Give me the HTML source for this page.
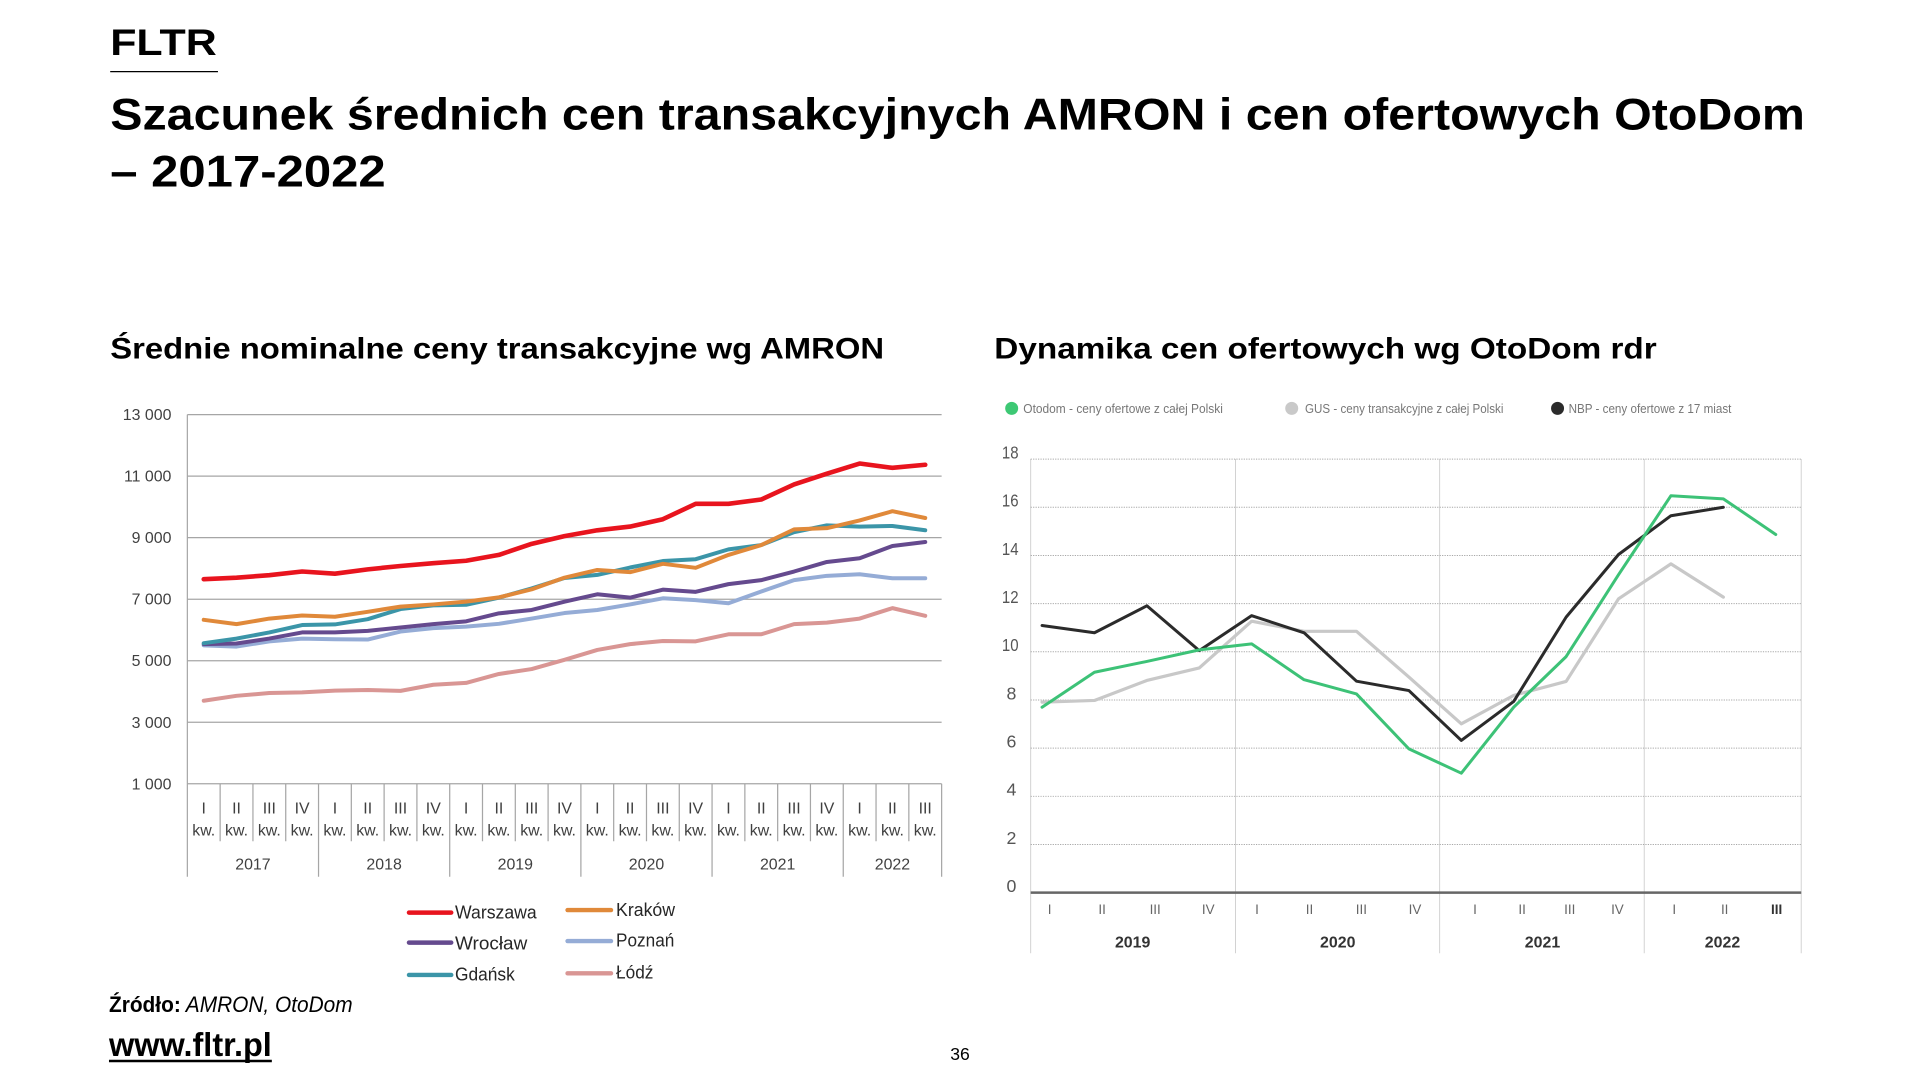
<!DOCTYPE html>
<html>
<head>
<meta charset="utf-8">
<style>
html,body{margin:0;padding:0;background:#fff;}
svg{display:block;}
text{font-family:"Liberation Sans",Arial,sans-serif;}
</style>
</head>
<body>
<svg width="1920" height="1080" viewBox="0 0 1568 882" xmlns="http://www.w3.org/2000/svg">
<rect x="0" y="0" width="1568" height="882" fill="#fff"/>

<!-- Header -->
<text x="90" y="45" font-size="30" font-weight="bold" fill="#000" textLength="87" lengthAdjust="spacingAndGlyphs">FLTR</text>
<line x1="90" y1="58.5" x2="178" y2="58.5" stroke="#000" stroke-width="1"/>
<text x="90" y="105.6" font-size="36.5" font-weight="bold" fill="#000" textLength="1384" lengthAdjust="spacingAndGlyphs">Szacunek średnich cen transakcyjnych AMRON i cen ofertowych OtoDom</text>
<text x="90" y="152.4" font-size="36.5" font-weight="bold" fill="#000" textLength="225" lengthAdjust="spacingAndGlyphs">– 2017-2022</text>

<text x="90" y="292.6" font-size="24" font-weight="bold" fill="#000" textLength="632" lengthAdjust="spacingAndGlyphs">Średnie nominalne ceny transakcyjne wg AMRON</text>
<text x="812" y="292.6" font-size="24" font-weight="bold" fill="#000" textLength="541" lengthAdjust="spacingAndGlyphs">Dynamika cen ofertowych wg OtoDom rdr</text>

<!-- LEFT CHART -->
<g stroke="#a6a6a6" stroke-width="1" fill="none">
  <line x1="153" y1="338.6" x2="769" y2="338.6"/>
  <line x1="153" y1="388.85" x2="769" y2="388.85"/>
  <line x1="153" y1="439.1" x2="769" y2="439.1"/>
  <line x1="153" y1="489.35" x2="769" y2="489.35"/>
  <line x1="153" y1="539.6" x2="769" y2="539.6"/>
  <line x1="153" y1="589.85" x2="769" y2="589.85"/>
  <line x1="153" y1="640.1" x2="769" y2="640.1"/>
  <line x1="153" y1="338.6" x2="153" y2="716"/>
  <path d="M179.78 640.1V687 M206.57 640.1V687 M233.35 640.1V687 M260.13 640.1V716 M286.91 640.1V687 M313.70 640.1V687 M340.48 640.1V687 M367.26 640.1V716 M394.04 640.1V687 M420.83 640.1V687 M447.61 640.1V687 M474.39 640.1V716 M501.17 640.1V687 M527.96 640.1V687 M554.74 640.1V687 M581.52 640.1V716 M608.30 640.1V687 M635.09 640.1V687 M661.87 640.1V687 M688.65 640.1V716 M715.43 640.1V687 M742.22 640.1V687 M769 640.1V716"/>
</g>
<g font-size="13" fill="#404040" text-anchor="end">
  <text x="140" y="343.1">13 000</text>
  <text x="140" y="393.35">11 000</text>
  <text x="140" y="443.6">9 000</text>
  <text x="140" y="493.85">7 000</text>
  <text x="140" y="544.1">5 000</text>
  <text x="140" y="594.35">3 000</text>
  <text x="140" y="644.6">1 000</text>
</g>
<g font-size="13" fill="#404040" text-anchor="middle">
  <text x="166.39" y="664.5">I</text><text x="193.17" y="664.5">II</text><text x="219.96" y="664.5">III</text><text x="246.74" y="664.5">IV</text>
  <text x="273.52" y="664.5">I</text><text x="300.30" y="664.5">II</text><text x="327.09" y="664.5">III</text><text x="353.87" y="664.5">IV</text>
  <text x="380.65" y="664.5">I</text><text x="407.43" y="664.5">II</text><text x="434.22" y="664.5">III</text><text x="461.00" y="664.5">IV</text>
  <text x="487.78" y="664.5">I</text><text x="514.56" y="664.5">II</text><text x="541.35" y="664.5">III</text><text x="568.13" y="664.5">IV</text>
  <text x="594.91" y="664.5">I</text><text x="621.69" y="664.5">II</text><text x="648.48" y="664.5">III</text><text x="675.26" y="664.5">IV</text>
  <text x="702.04" y="664.5">I</text><text x="728.82" y="664.5">II</text><text x="755.61" y="664.5">III</text>

  <text x="166.39" y="682.5">kw.</text><text x="193.17" y="682.5">kw.</text><text x="219.96" y="682.5">kw.</text><text x="246.74" y="682.5">kw.</text>
  <text x="273.52" y="682.5">kw.</text><text x="300.30" y="682.5">kw.</text><text x="327.09" y="682.5">kw.</text><text x="353.87" y="682.5">kw.</text>
  <text x="380.65" y="682.5">kw.</text><text x="407.43" y="682.5">kw.</text><text x="434.22" y="682.5">kw.</text><text x="461.00" y="682.5">kw.</text>
  <text x="487.78" y="682.5">kw.</text><text x="514.56" y="682.5">kw.</text><text x="541.35" y="682.5">kw.</text><text x="568.13" y="682.5">kw.</text>
  <text x="594.91" y="682.5">kw.</text><text x="621.69" y="682.5">kw.</text><text x="648.48" y="682.5">kw.</text><text x="675.26" y="682.5">kw.</text>
  <text x="702.04" y="682.5">kw.</text><text x="728.82" y="682.5">kw.</text><text x="755.61" y="682.5">kw.</text>

  <text x="206.57" y="710">2017</text>
  <text x="313.70" y="710">2018</text>
  <text x="420.83" y="710">2019</text>
  <text x="527.96" y="710">2020</text>
  <text x="635.09" y="710">2021</text>
  <text x="728.82" y="710">2022</text>
</g>

<g transform="translate(166.39 665.225) scale(26.7826 -0.025125)" fill="none" stroke-linejoin="round" stroke-linecap="round">
  <polyline vector-effect="non-scaling-stroke" stroke="#d99694" stroke-width="4" points="0,3700 1,3860 2,3950 3,3970 4,4030 5,4050 6,4020 7,4220 8,4280 9,4570 10,4730 11,5030 12,5350 13,5540 14,5640 15,5630 16,5860 17,5860 18,6190 19,6240 20,6370 21,6710 22,6460"/>
  <polyline vector-effect="non-scaling-stroke" stroke="#95acd6" stroke-width="4" points="0,5500 1,5460 2,5630 3,5720 4,5700 5,5690 6,5950 7,6060 8,6110 9,6200 10,6370 11,6550 12,6650 13,6830 14,7030 15,6970 16,6870 17,7250 18,7620 19,7760 20,7810 21,7680 22,7680"/>
  <polyline vector-effect="non-scaling-stroke" stroke="#654a8e" stroke-width="4" points="0,5540 1,5560 2,5720 3,5920 4,5920 5,5970 6,6080 7,6190 8,6280 9,6540 10,6650 11,6920 12,7160 13,7050 14,7310 15,7240 16,7490 17,7620 18,7900 19,8210 20,8330 21,8730 22,8860"/>
  <polyline vector-effect="non-scaling-stroke" stroke="#3b95a8" stroke-width="4" points="0,5570 1,5720 2,5920 3,6160 4,6180 5,6350 6,6680 7,6800 8,6820 9,7050 10,7350 11,7690 12,7790 13,8030 14,8240 15,8300 16,8620 17,8760 18,9180 19,9400 20,9360 21,9380 22,9240"/>
  <polyline vector-effect="non-scaling-stroke" stroke="#e0893a" stroke-width="4" points="0,6330 1,6190 2,6370 3,6470 4,6430 5,6590 6,6760 7,6830 8,6920 9,7060 10,7320 11,7700 12,7950 13,7880 14,8150 15,8020 16,8440 17,8760 18,9270 19,9310 20,9560 21,9860 22,9640"/>
  <polyline vector-effect="non-scaling-stroke" stroke="#e8141e" stroke-width="4.6" points="0,7650 1,7700 2,7780 3,7900 4,7830 5,7970 6,8080 7,8170 8,8250 9,8440 10,8800 11,9050 12,9240 13,9360 14,9600 15,10100 16,10100 17,10240 18,10730 19,11080 20,11410 21,11270 22,11370"/>
</g>

<!-- Left legend -->
<g stroke-width="3.6" stroke-linecap="round">
  <line x1="334" y1="745.3" x2="368.5" y2="745.3" stroke="#e8141e"/>
  <line x1="463.5" y1="743.2" x2="499" y2="743.2" stroke="#e0893a"/>
  <line x1="334" y1="769.8" x2="368.5" y2="769.8" stroke="#654a8e"/>
  <line x1="463.5" y1="768.5" x2="499" y2="768.5" stroke="#95acd6"/>
  <line x1="334" y1="796.2" x2="368.5" y2="796.2" stroke="#3b95a8"/>
  <line x1="463.5" y1="794.9" x2="499" y2="794.9" stroke="#d99694"/>
</g>
<g font-size="15" fill="#262626">
  <text x="371.6" y="750" textLength="66.7" lengthAdjust="spacingAndGlyphs">Warszawa</text>
  <text x="503.1" y="748.1" textLength="48.2" lengthAdjust="spacingAndGlyphs">Kraków</text>
  <text x="371.6" y="775.3" textLength="59" lengthAdjust="spacingAndGlyphs">Wrocław</text>
  <text x="503.1" y="773" textLength="47.6" lengthAdjust="spacingAndGlyphs">Poznań</text>
  <text x="371.6" y="800.9" textLength="48.8" lengthAdjust="spacingAndGlyphs">Gdańsk</text>
  <text x="503.1" y="799" textLength="30.5" lengthAdjust="spacingAndGlyphs">Łódź</text>
</g>

<!-- RIGHT CHART -->
<g fill="none">
  <g stroke="#d2d2d2" stroke-width="0.8">
    <line x1="841.7" y1="374.9" x2="841.7" y2="778.5"/>
    <line x1="1009" y1="374.9" x2="1009" y2="778.5"/>
    <line x1="1175.7" y1="374.9" x2="1175.7" y2="778.5"/>
    <line x1="1342.8" y1="374.9" x2="1342.8" y2="778.5"/>
    <line x1="1471" y1="374.9" x2="1471" y2="778.5"/>
  </g>
  <g stroke="#a8a8a8" stroke-width="0.8" stroke-dasharray="1 1">
    <line x1="841.7" y1="374.94" x2="1471" y2="374.94"/>
    <line x1="841.7" y1="414.28" x2="1471" y2="414.28"/>
    <line x1="841.7" y1="453.62" x2="1471" y2="453.62"/>
    <line x1="841.7" y1="492.96" x2="1471" y2="492.96"/>
    <line x1="841.7" y1="532.3" x2="1471" y2="532.3"/>
    <line x1="841.7" y1="571.64" x2="1471" y2="571.64"/>
    <line x1="841.7" y1="610.98" x2="1471" y2="610.98"/>
    <line x1="841.7" y1="650.32" x2="1471" y2="650.32"/>
    <line x1="841.7" y1="689.66" x2="1471" y2="689.66"/>
  </g>
  <line x1="841.7" y1="729" x2="1471" y2="729" stroke="#666" stroke-width="2"/>
</g>
<g font-size="14.5" fill="#555" text-anchor="middle">
  <text x="825" y="374.4" textLength="13.6" lengthAdjust="spacingAndGlyphs">18</text>
  <text x="825" y="413.8" textLength="13.6" lengthAdjust="spacingAndGlyphs">16</text>
  <text x="825" y="453.1" textLength="13.6" lengthAdjust="spacingAndGlyphs">14</text>
  <text x="825" y="492.5" textLength="13.6" lengthAdjust="spacingAndGlyphs">12</text>
  <text x="825" y="531.8" textLength="13.6" lengthAdjust="spacingAndGlyphs">10</text>
  <text x="826" y="571.1">8</text>
  <text x="826" y="610.5">6</text>
  <text x="826" y="649.8">4</text>
  <text x="826" y="689.2">2</text>
  <text x="826" y="728.3">0</text>
</g>
<g font-size="11" fill="#666" text-anchor="middle">
  <text x="857.2" y="746.3">I</text><text x="900.1" y="746.3">II</text><text x="943.4" y="746.3">III</text><text x="986.7" y="746.3">IV</text>
  <text x="1026.5" y="746.3">I</text><text x="1069.4" y="746.3">II</text><text x="1111.8" y="746.3">III</text><text x="1155.6" y="746.3">IV</text>
  <text x="1204.6" y="746.3">I</text><text x="1243.1" y="746.3">II</text><text x="1282" y="746.3">III</text><text x="1320.9" y="746.3">IV</text>
  <text x="1367.3" y="746.3">I</text><text x="1408.5" y="746.3">II</text><text x="1450.9" y="746.3" font-weight="bold" fill="#333">III</text>
</g>
<g font-size="13" font-weight="bold" fill="#333" text-anchor="middle">
  <text x="925" y="773.8">2019</text>
  <text x="1092.5" y="773.8">2020</text>
  <text x="1259.7" y="773.8">2021</text>
  <text x="1406.7" y="773.8">2022</text>
</g>

<g transform="translate(851 729) scale(42.8 -19.67)" fill="none" stroke-linejoin="round" stroke-linecap="round">
  <polyline vector-effect="non-scaling-stroke" stroke="#c8c8c8" stroke-width="3.2" points="0,7.91 1,7.98 2,8.81 3,9.33 4,11.27 5,10.85 6,10.85 7,8.95 8,7.01 9,8.19 10,8.77 11,12.2 12,13.65 13,12.27"/>
  <polyline vector-effect="non-scaling-stroke" stroke="#2b2b2b" stroke-width="3" points="0,11.09 1,10.79 2,11.91 3,10.05 4,11.5 5,10.79 6,8.78 7,8.39 8,6.32 9,7.94 10,11.44 11,14.04 12,15.65 13,16.0"/>
  <polyline vector-effect="non-scaling-stroke" stroke="#3dc277" stroke-width="3" points="0,7.7 1,9.15 2,9.6 3,10.08 4,10.33 5,8.84 6,8.25 7,5.97 8,4.96 9,7.7 10,9.8 11,13.2 12,16.48 13,16.35 14,14.87"/>
</g>

<!-- Right legend -->
<circle cx="826.2" cy="333.5" r="5.3" fill="#3dc874"/>
<circle cx="1054.9" cy="333.5" r="5.3" fill="#c9c9c9"/>
<circle cx="1272" cy="333.5" r="5.3" fill="#2b2b2b"/>
<g font-size="10.5" fill="#777">
  <text x="835.7" y="337.4" textLength="163" lengthAdjust="spacingAndGlyphs">Otodom - ceny ofertowe z całej Polski</text>
  <text x="1065.8" y="337.4" textLength="162" lengthAdjust="spacingAndGlyphs">GUS - ceny transakcyjne z całej Polski</text>
  <text x="1281" y="337.4" textLength="133" lengthAdjust="spacingAndGlyphs">NBP - ceny ofertowe z 17 miast</text>
</g>

<!-- Footer -->
<text x="89" y="826.5" font-size="18" fill="#000" textLength="199" lengthAdjust="spacingAndGlyphs"><tspan font-weight="bold">Źródło:</tspan><tspan font-style="italic"> AMRON, OtoDom</tspan></text>
<text x="89" y="862.5" font-size="27" font-weight="bold" fill="#000" textLength="133" lengthAdjust="spacingAndGlyphs">www.fltr.pl</text>
<line x1="89" y1="866.5" x2="222" y2="866.5" stroke="#000" stroke-width="2"/>
<text x="776" y="865.5" font-size="14" fill="#000" textLength="16" lengthAdjust="spacingAndGlyphs">36</text>
</svg>
</body>
</html>
